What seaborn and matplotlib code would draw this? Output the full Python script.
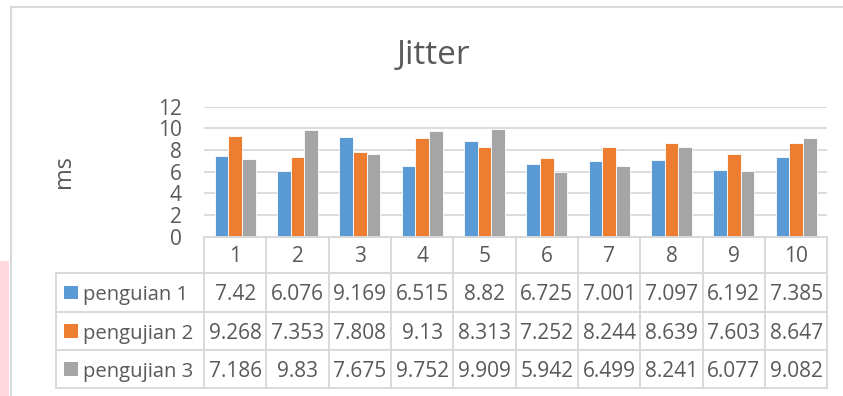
import numpy as np
import pandas as pd
import matplotlib
matplotlib.use("Agg")
import matplotlib.pyplot as plt
import matplotlib.transforms as mtransforms
from matplotlib.patches import Rectangle
import seaborn as sns

# ---- data ----
categories = ["1", "2", "3", "4", "5", "6", "7", "8", "9", "10"]
series_names = ["penguian 1", "pengujian 2", "pengujian 3"]
penguian_1 = [7.42, 6.076, 9.169, 6.515, 8.82, 6.725, 7.001, 7.097, 6.192, 7.385]
pengujian_2 = [9.268, 7.353, 7.808, 9.13, 8.313, 7.252, 8.244, 8.639, 7.603, 8.647]
pengujian_3 = [7.186, 9.83, 7.675, 9.752, 9.909, 5.942, 6.499, 8.241, 6.077, 9.082]
y_ticks = [0, 2, 4, 6, 8, 10, 12]

series_values = [penguian_1, pengujian_2, pengujian_3]
colors = ["#5B9BD5", "#ED7D31", "#A5A5A5"]

df = pd.DataFrame({
    "uji": categories * 3,
    "seri": np.repeat(series_names, len(categories)),
    "ms": penguian_1 + pengujian_2 + pengujian_3,
})

sns.set_style("white")
plt.rcParams["font.family"] = ["Open Sans", "DejaVu Sans"]

W, H = 843, 396
TXT = "#595959"
LINE = "#D9D9D9"

fig = plt.figure(figsize=(W / 100, H / 100), dpi=100)


def fx(px):
    return px / W


def fy(py):
    return 1 - py / H


# plot area in pixel terms
ax_left, ax_right, ax_top, ax_bot = 204, 827.3, 106.7, 236.7
ax = fig.add_axes([fx(ax_left), fy(ax_bot), fx(ax_right - ax_left), (ax_bot - ax_top) / H])

sns.barplot(data=df, x="uji", y="ms", hue="seri", order=categories,
            hue_order=series_names, palette=colors, width=0.66,
            saturation=1, edgecolor="white", linewidth=0.6,
            legend=False, ax=ax)

ax.set_xlim(-0.5, len(categories) - 0.5)
ax.set_ylim(0, 12)
ax.set_yticks(y_ticks)
ax.set_yticklabels([str(t) for t in y_ticks], fontsize=15, color=TXT)
ax.tick_params(axis="y", length=0, pad=16)
ax.set_xticks([])
ax.set_xlabel("")
ax.set_ylabel("")
for s in ax.spines.values():
    s.set_visible(False)
ax.grid(axis="y", color=LINE, linewidth=1.3)
ax.set_axisbelow(True)

# chart frame and side strip
fig.add_artist(Rectangle((0, 0), fx(8.5), fy(261), transform=fig.transFigure,
                         facecolor="#FFD9DF", edgecolor="none"))
fig.add_artist(plt.Line2D([fx(10.5), fx(10.5)], [0, fy(7.3)], transform=fig.transFigure,
                          color=LINE, linewidth=1.5))
fig.add_artist(plt.Line2D([fx(10.5), 1], [fy(7.3), fy(7.3)], transform=fig.transFigure,
                          color=LINE, linewidth=1.5))

# title and axis title
fig.text(fx(433), fy(64), "Jitter", ha="center", va="baseline", fontsize=24, color=TXT)
fig.text(fx(64), fy(172), "ms", ha="center", va="center", rotation=90, fontsize=17, color=TXT)

# ---- data table under the plot ----
blend = mtransforms.blended_transform_factory(ax.transData, fig.transFigure)
row_lines = [236.7, 273.3, 311.7, 350, 388.3]
n = len(categories)
lw = 1.4

# horizontal rules
ax.plot([-0.5, n - 0.5], [fy(row_lines[0])] * 2, transform=blend, color=LINE, lw=lw, clip_on=False)
for yl in row_lines[1:]:
    fig.add_artist(plt.Line2D([fx(56), fx(ax_right)], [fy(yl), fy(yl)],
                              transform=fig.transFigure, color=LINE, linewidth=lw))
# vertical rules
for i in range(n + 1):
    ax.plot([i - 0.5, i - 0.5], [fy(row_lines[0]), fy(row_lines[-1])], transform=blend,
            color=LINE, lw=lw, clip_on=False)
fig.add_artist(plt.Line2D([fx(56), fx(56)], [fy(row_lines[1]), fy(row_lines[-1])],
                          transform=fig.transFigure, color=LINE, linewidth=lw))

# header row with category labels
for i, c in enumerate(categories):
    ax.text(i, fy(261.7), c, transform=blend, ha="center", va="baseline",
            fontsize=15, color=TXT, clip_on=False)

# series rows
for r, (name, vals, col) in enumerate(zip(series_names, series_values, colors)):
    top, bot = row_lines[r + 1], row_lines[r + 2]
    mid = (top + bot) / 2
    base = mid + 7.7
    fig.add_artist(Rectangle((fx(64), fy(mid + 6.8)), fx(13.7), 13.7 / H,
                             transform=fig.transFigure, facecolor=col, edgecolor="none"))
    fig.text(fx(83), fy(base), name, ha="left", va="baseline", fontsize=14.6, color=TXT)
    for i, v in enumerate(vals):
        ax.text(i, fy(base), f"{v:g}", transform=blend, ha="center", va="baseline",
                fontsize=15, color=TXT, clip_on=False)

fig.savefig("out.png", dpi=100, facecolor="white")
